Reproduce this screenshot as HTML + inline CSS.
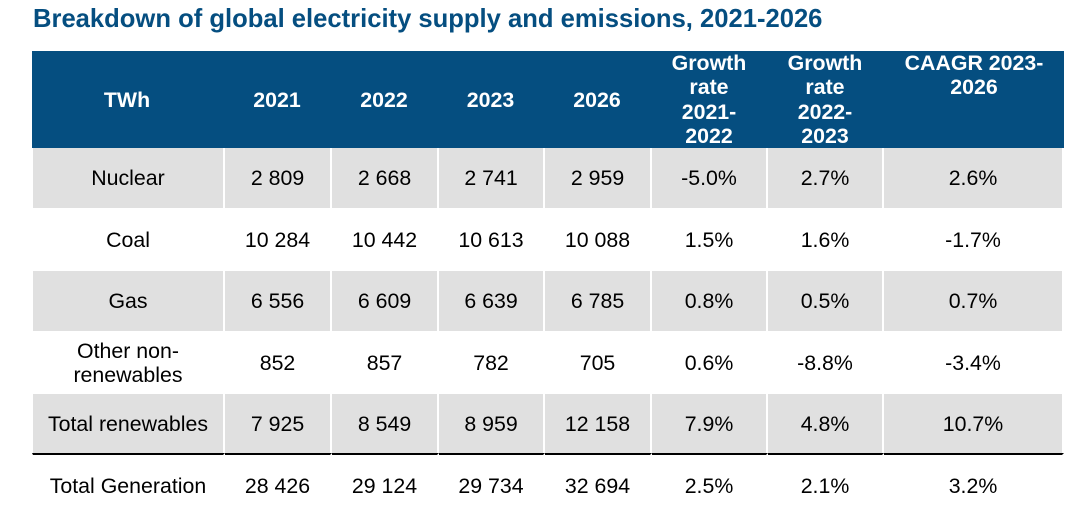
<!DOCTYPE html>
<html lang="en">
<head>
<meta charset="utf-8">
<title>Breakdown of global electricity supply and emissions, 2021-2026</title>
<style>
html,body{margin:0;padding:0;width:1076px;height:510px;overflow:hidden;background:#fff;}
body{position:relative;font-family:"Liberation Sans",Arial,sans-serif;color:#000;}
h1{position:absolute;left:33px;top:4px;margin:0;font-size:25.6px;line-height:30px;font-weight:bold;color:#054e80;white-space:nowrap;}
table{position:absolute;left:32px;top:51px;width:1032px;table-layout:fixed;border-collapse:separate;border-spacing:0;font-size:21.33px;}
th,td{padding:0;text-align:center;vertical-align:middle;box-sizing:border-box;}
th{background:#054e80;color:#fff;font-weight:bold;line-height:24.25px;height:97px;}
th.top{vertical-align:top;}
th.one{padding-top:2px;padding-right:3px;}
th.two{padding-right:2px;}
td{line-height:24.5px;border-right:2px solid #fff;padding-top:1px;}
td:first-child{border-left:1px solid #fff;}
tr.g td{background:#e0e0e0;}
tr.total td{border-top:2px solid #000;height:64px;}
</style>
</head>
<body>
<h1>Breakdown of global electricity supply and emissions, 2021-2026</h1>
<table>
<colgroup><col style="width:193px"><col style="width:107px"><col style="width:107px"><col style="width:106px"><col style="width:107px"><col style="width:116px"><col style="width:116px"><col style="width:180px"></colgroup>
<thead>
<tr>
<th class="one">TWh</th>
<th class="one">2021</th>
<th class="one">2022</th>
<th class="one">2023</th>
<th class="one">2026</th>
<th class="two">Growth<br>rate<br>2021-<br>2022</th>
<th class="two">Growth<br>rate<br>2022-<br>2023</th>
<th class="top">CAAGR 2023-<br>2026</th>
</tr>
</thead>
<tbody>
<tr class="g" style="height:60px">
<td>Nuclear</td><td>2 809</td><td>2 668</td><td>2 741</td><td>2 959</td><td>-5.0%</td><td>2.7%</td><td>2.6%</td>
</tr>
<tr style="height:63px">
<td>Coal</td><td>10 284</td><td>10 442</td><td>10 613</td><td>10 088</td><td>1.5%</td><td>1.6%</td><td>-1.7%</td>
</tr>
<tr class="g" style="height:60px">
<td>Gas</td><td>6 556</td><td>6 609</td><td>6 639</td><td>6 785</td><td>0.8%</td><td>0.5%</td><td>0.7%</td>
</tr>
<tr style="height:63px">
<td>Other non-<br>renewables</td><td>852</td><td>857</td><td>782</td><td>705</td><td>0.6%</td><td>-8.8%</td><td>-3.4%</td>
</tr>
<tr class="g" style="height:59px">
<td>Total renewables</td><td>7 925</td><td>8 549</td><td>8 959</td><td>12 158</td><td>7.9%</td><td>4.8%</td><td>10.7%</td>
</tr>
<tr class="total">
<td>Total Generation</td><td>28 426</td><td>29 124</td><td>29 734</td><td>32 694</td><td>2.5%</td><td>2.1%</td><td>3.2%</td>
</tr>
</tbody>
</table>
</body>
</html>
